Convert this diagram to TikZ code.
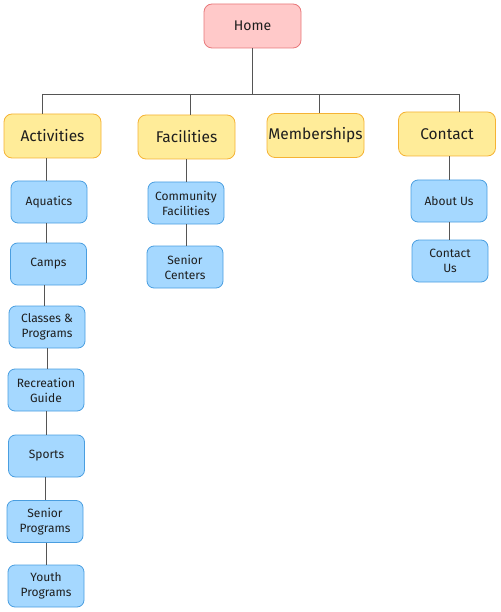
\documentclass[tikz,border=0pt]{standalone}
\usepackage{fontspec}
\setmainfont{Fira Sans}
\definecolor{homefill}{HTML}{FFC9C9}
\definecolor{homedraw}{HTML}{E8787A}
\definecolor{secfill}{HTML}{FFEC99}
\definecolor{secdraw}{HTML}{F5B335}
\definecolor{leaffill}{HTML}{A5D8FF}
\definecolor{leafdraw}{HTML}{4A9EE0}
\definecolor{linec}{HTML}{555555}
\definecolor{textc}{HTML}{1E1E1E}
\begin{document}
\begin{tikzpicture}[x=1pt,y=-1pt,
  box/.style={rounded corners=8pt, line width=0.8pt, align=center, text=textc, inner sep=0pt},
  homebox/.style={box, fill=homefill, draw=homedraw, minimum width=97pt, minimum height=44pt, font=\fontsize{14}{16}\selectfont},
  secbox/.style={box, fill=secfill, draw=secdraw, minimum width=97pt, minimum height=44pt, font=\fontsize{15.5}{18}\selectfont},
  leafbox/.style={box, fill=leaffill, draw=leafdraw, minimum width=76pt, minimum height=42pt, rounded corners=7pt, font=\fontsize{12}{15}\selectfont},
  conn/.style={draw=linec, line width=0.7pt}]
\useasboundingbox (0,0) rectangle (500,612);

\node[homebox] (home) at (252.5,26) {Home};

\node[secbox] (act) at (52.5,136) {Activities};
\node[secbox] (fac) at (186.5,137) {Facilities};
\node[secbox] (mem) at (315.5,135.5) {Memberships};
\node[secbox] (con) at (447,134) {Contact};

\node[leafbox] (aqu) at (49,202) {Aquatics};
\node[leafbox] (cam) at (48.5,264) {Camps};
\node[leafbox] (cla) at (47,327) {Classes \&\\Programs};
\node[leafbox] (rec) at (46,390) {Recreation\\Guide};
\node[leafbox] (spo) at (46.5,456) {Sports};
\node[leafbox] (sen) at (45,521.5) {Senior\\Programs};
\node[leafbox] (you) at (46,586) {Youth\\Programs};

\node[leafbox] (com) at (186,203) {Community\\Facilities};
\node[leafbox] (sce) at (185,267) {Senior\\Centers};

\node[leafbox] (abo) at (449,201) {About Us};
\node[leafbox] (cus) at (450,261) {Contact\\Us};

\coordinate (bus) at (252.5,94);
\coordinate (j1) at (42,94);
\coordinate (j2) at (190,94);
\coordinate (j3) at (319,94);
\coordinate (j4) at (459,94);

\draw[conn] (home.south) -- (bus);
\draw[conn] (j1) -- (j4);
\draw[conn] (j1) -- (j1 |- act.north);
\draw[conn] (j2) -- (j2 |- fac.north);
\draw[conn] (j3) -- (j3 |- mem.north);
\draw[conn] (j4) -- (j4 |- con.north);

\draw[conn] ([xshift=-3pt]aqu.north |- act.south) -- ([xshift=-3pt]aqu.north);
\draw[conn] ([xshift=-3pt]aqu.south) -- ([xshift=-3pt]aqu.south |- cam.north);
\draw[conn] ([xshift=-3pt]cla.north |- cam.south) -- ([xshift=-3pt]cla.north);
\draw[conn] (cla.south) -- (cla.south |- rec.north);
\draw[conn] (rec.south) -- (rec.south |- spo.north);
\draw[conn] (sen.north |- spo.south) -- (sen.north);
\draw[conn] (you.north |- sen.south) -- (you.north);

\draw[conn] (com.north |- fac.south) -- (com.north);
\draw[conn] (com.south) -- (com.south |- sce.north);

\draw[conn] (abo.north |- con.south) -- (abo.north);
\draw[conn] (abo.south) -- (abo.south |- cus.north);
\end{tikzpicture}
\end{document}
